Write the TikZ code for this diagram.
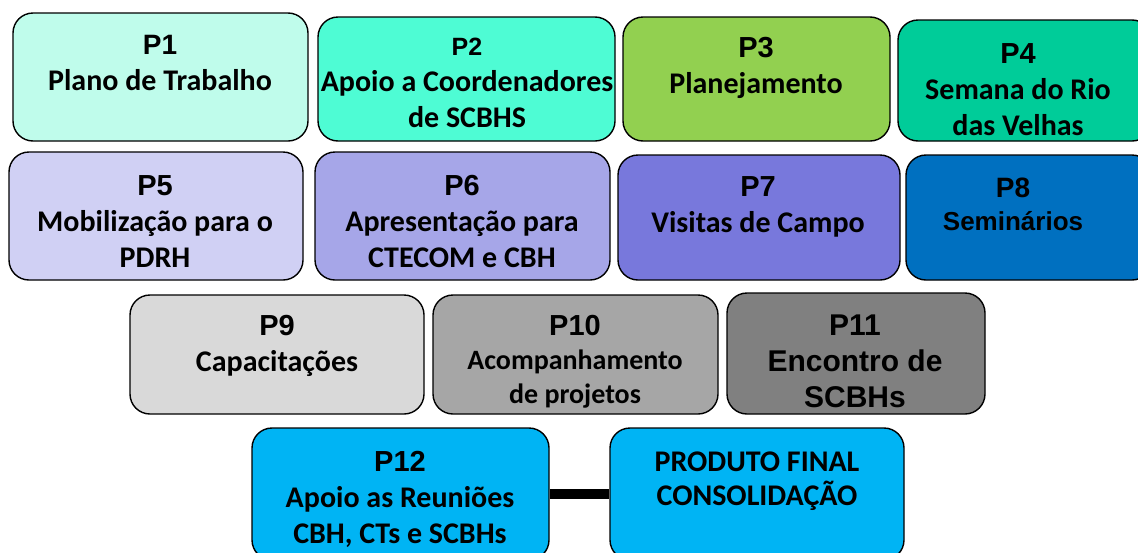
\documentclass[tikz,border=0pt]{standalone}
\usepackage{fontspec}
\setmainfont{Carlito}
\newfontfamily\arialfont{Liberation Sans}
\newcommand\plabf{\arialfont\bfseries\fontsize{29}{36}\selectfont}
\usetikzlibrary{fit}
\definecolor{cA}{HTML}{BFFCEB}
\definecolor{cB}{HTML}{4EFCD4}
\definecolor{cC}{HTML}{92D050}
\definecolor{cD}{HTML}{00CC99}
\definecolor{cE}{HTML}{D0D0F4}
\definecolor{cF}{HTML}{A6A6E8}
\definecolor{cG}{HTML}{7878DC}
\definecolor{cH}{HTML}{0070C0}
\definecolor{cI}{HTML}{D9D9D9}
\definecolor{cJ}{HTML}{A6A6A6}
\definecolor{cK}{HTML}{808080}
\definecolor{cL}{HTML}{00B4F4}
\tikzset{
  pbox/.style={draw=black, line width=1.4pt, rounded corners=20pt, inner sep=0pt},
  ptext/.style={anchor=base, align=center, inner sep=0pt, font=\fontsize{30}{36}\selectfont\bfseries},
}
\begin{document}
\begin{tikzpicture}[x=1pt,y=-1pt]
\useasboundingbox (0,0) rectangle (1138,552);
\clip (0,0) rectangle (1138,552);
\node[pbox, fill=cA, fit={(13,13) (308,141)}] (b1) {};
\node[pbox, fill=cB, fit={(318,17) (615,141)}] (b2) {};
\node[pbox, fill=cC, fit={(623,17) (890,141)}] (b3) {};
\node[pbox, fill=cD, fit={(898,20) (1152,141)}] (b4) {};
\node[pbox, fill=cE, fit={(9,152) (303,280)}] (b5) {};
\node[pbox, fill=cF, fit={(315,152) (610,280)}] (b6) {};
\node[pbox, fill=cG, fit={(618,155) (900,280)}] (b7) {};
\node[pbox, fill=cH, fit={(906,155) (1152,280)}] (b8) {};
\node[pbox, fill=cI, fit={(130,295) (424,414)}] (b9) {};
\node[pbox, fill=cJ, fit={(433,295) (718,414)}] (b10) {};
\node[pbox, fill=cK, fit={(727,293) (985,414)}] (b11) {};
\node[pbox, fill=cL, fit={(252,428) (549,560)}] (b12) {};
\node[pbox, fill=cL, fit={(610,428) (904,560)}] (bf) {};
\draw[line width=10pt] (b12.east) -- (bf.west);

\node[ptext] (t1) at (160,90) {{\plabf\fontsize{28}{36}\selectfont P1}\\Plano de Trabalho};
\node[ptext] (t2) at (467,127) {{\plabf\fontsize{25}{36}\selectfont P2}\\Apoio a Coordenadores\\de SCBHS};
\node[ptext] (t3) at (756,93) {{\plabf P3}\\Planejamento};
\node[ptext] (t4) at (1018,135) {{\plabf P4}\\Semana do Rio\\das Velhas};
\node[ptext] (t5) at (155,267) {{\plabf P5}\\Mobilização para o\\PDRH};
\node[ptext] (t6) at (462,267) {{\plabf P6}\\Apresentação para\\CTECOM e CBH};
\node[ptext] (t7) at (758,232) {{\plabf P7}\\Visitas de Campo};
\node[ptext, font=\arialfont\bfseries\fontsize{26}{33}\selectfont] (t8) at (1013,230) {{\fontsize{28}{33}\selectfont P8}\\Seminários};
\node[ptext] (t9) at (277,371) {{\plabf P9}\\Capacitações};
\node[ptext, font=\fontsize{28}{34}\selectfont\bfseries] (t10) at (575,403) {{\plabf P10}\\Acompanhamento\\de projetos};
\node[ptext, font=\arialfont\bfseries\fontsize{30}{36}\selectfont] (t11) at (855,407) {P11\\Encontro de\\SCBHs};
\node[ptext] (t12) at (400,543) {{\plabf P12}\\Apoio as Reuniões\\CBH, CTs e SCBHs};
\node[ptext, font=\fontsize{30}{34}\selectfont\bfseries] (tf) at (757,505) {PRODUTO FINAL\\CONSOLIDAÇÃO};
\end{tikzpicture}
\end{document}
